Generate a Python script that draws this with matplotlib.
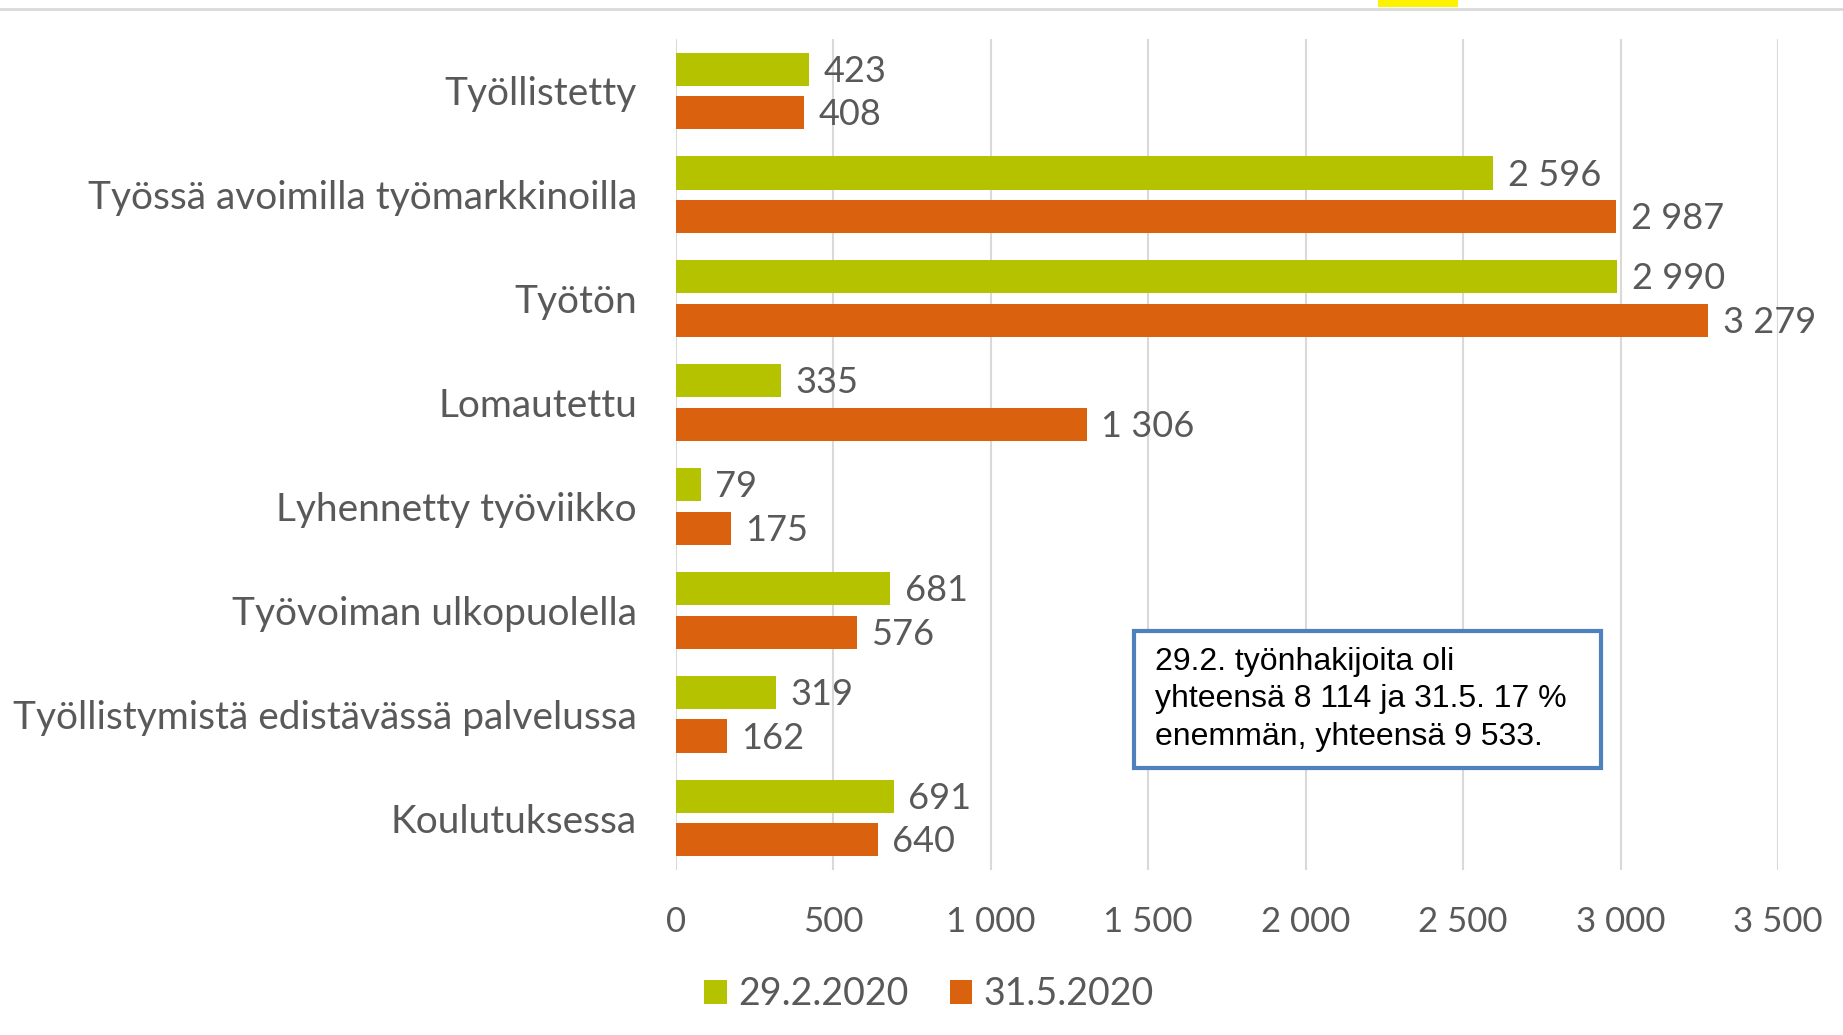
import matplotlib.pyplot as plt
import matplotlib.patches as patches
from matplotlib.ticker import FuncFormatter
import numpy as np

categories = ["Työllistetty", "Työssä avoimilla työmarkkinoilla", "Työtön", "Lomautettu",
              "Lyhennetty työviikko", "Työvoiman ulkopuolella",
              "Työllistymistä edistävässä palvelussa", "Koulutuksessa"]
feb_values = [423, 2596, 2990, 335, 79, 681, 319, 691]
may_values = [408, 2987, 3279, 1306, 175, 576, 162, 640]
series_labels = ["29.2.2020", "31.5.2020"]
x_ticks = [0, 500, 1000, 1500, 2000, 2500, 3000, 3500]
note = "29.2. työnhakijoita oli\nyhteensä 8 114 ja 31.5. 17 %\nenemmän, yhteensä 9 533."

GREEN = "#B5C200"
ORANGE = "#DA620E"
GRAY_TXT = "#595959"
FONT = "Lato"


def fmt(v):
    return f"{v:,}".replace(",", " ")


fig = plt.figure(figsize=(18.43, 10.35), dpi=100)
ax = fig.add_axes([676 / 1843, 1 - 870 / 1035, (1778 - 676) / 1843, (870 - 39) / 1035])

y = np.arange(len(categories))
h = 0.32
off = 0.21
b1 = ax.barh(y - off, feb_values, height=h, color=GREEN, label=series_labels[0], zorder=3)
b2 = ax.barh(y + off, may_values, height=h, color=ORANGE, label=series_labels[1], zorder=3)

for bars, vals in ((b1, feb_values), (b2, may_values)):
    for bar, v in zip(bars, vals):
        ax.text(v + 45, bar.get_y() + bar.get_height() / 2 + 0.02, fmt(v), va="center",
                ha="left", fontsize=26, color=GRAY_TXT, family=FONT)

ax.set_ylim(len(categories) - 0.5, -0.5)
ax.set_xlim(0, 3500)
ax.set_yticks(y)
ax.set_yticklabels(categories, fontsize=28, color=GRAY_TXT, family=FONT)
ax.set_xticks(x_ticks)
ax.xaxis.set_major_formatter(FuncFormatter(lambda v, p: fmt(int(v))))
for lab in ax.get_xticklabels():
    lab.set_fontsize(25)
    lab.set_color(GRAY_TXT)
    lab.set_family(FONT)
ax.tick_params(axis="y", length=0, pad=28)
ax.tick_params(axis="x", length=0, pad=26)
ax.grid(axis="x", color="#D9D9D9", linewidth=1.5, zorder=0)
for s in ax.spines.values():
    s.set_visible(False)

leg = fig.legend(handles=[b1, b2], labels=series_labels, loc="center",
                 bbox_to_anchor=(929 / 1843, 1 - 994 / 1035), ncol=2, frameon=False,
                 handlelength=0.6, handleheight=0.6, handletextpad=0.3, columnspacing=1.1,
                 prop={"family": FONT, "size": 27})
for t in leg.get_texts():
    t.set_color(GRAY_TXT)

# note box
box_l, box_r, box_t, box_b = 1134, 1601, 631, 768
fig.patches.append(patches.Rectangle((box_l / 1843, 1 - box_b / 1035),
                                     (box_r - box_l) / 1843, (box_b - box_t) / 1035,
                                     transform=fig.transFigure, facecolor="white",
                                     edgecolor="#4F81BD", linewidth=3, zorder=5))
fig.text((box_l + 21) / 1843, 1 - (box_t + 16) / 1035, note, ha="left", va="top",
         fontsize=23, family="Liberation Sans", color="black", linespacing=1.32, zorder=6)

# top separator line and cut-off highlight
fig.add_artist(plt.Line2D([0, 1], [1 - 9 / 1035, 1 - 9 / 1035], color="#D9D9D9", linewidth=2,
                          transform=fig.transFigure))
fig.patches.append(patches.Rectangle((1378 / 1843, 1 - 7 / 1035), 80 / 1843, 7 / 1035,
                                     transform=fig.transFigure, facecolor="#FFF200",
                                     edgecolor="none"))

fig.savefig("out.png", dpi=100, facecolor="white")
